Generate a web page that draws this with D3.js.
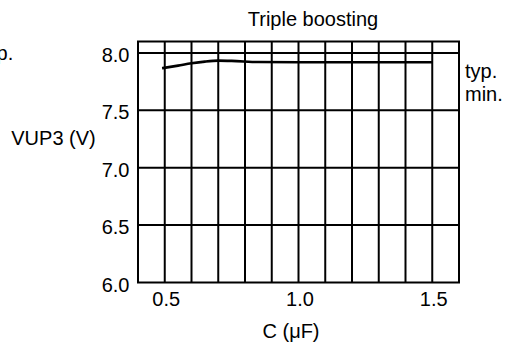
<!DOCTYPE html>
<html><head><meta charset="utf-8">
<script src="https://cdn.jsdelivr.net/npm/d3@7"></script>
<style>body{margin:0;background:#fff}svg{display:block}text{font-family:"Liberation Sans",Arial,sans-serif;fill:#000}</style>
</head><body>
<svg id="c" width="510" height="349"></svg>
<script>
const capX = [0.49, 0.55, 0.6, 0.65, 0.7, 0.75, 0.85, 1.0, 1.25, 1.5];
const vupTyp = [7.867, 7.89, 7.91, 7.925, 7.933, 7.931, 7.921, 7.919, 7.919, 7.919];
const xTicks = [0.5, 1.0, 1.5];
const yTicks = [6.0, 6.5, 7.0, 7.5, 8.0];
const xGrid = [0.5,0.6,0.7,0.8,0.9,1.0,1.1,1.2,1.3,1.4,1.5];
const yGrid = [6.5, 7.0, 7.5, 8.0];
const legendLabels = ["typ.", "min."];

const svg = d3.select("#c");
const x = d3.scaleLinear().domain([0.4, 1.6]).range([138, 459]);
const y = d3.scaleLinear().domain([6.0, 8.1]).range([282.5, 41.5]);

const g = svg.append("g");
g.selectAll(".vg").data(xGrid).join("line")
  .attr("x1", d=>x(d)).attr("x2", d=>x(d)).attr("y1", y(6.0)).attr("y2", y(8.1))
  .attr("stroke", "#000").attr("stroke-width", 2);
g.selectAll(".hg").data(yGrid).join("line")
  .attr("x1", x(0.4)).attr("x2", x(1.6)).attr("y1", d=>y(d)).attr("y2", d=>y(d))
  .attr("stroke", "#000").attr("stroke-width", 2);
g.append("rect").attr("x", x(0.4)).attr("y", y(8.1)).attr("width", x(1.6)-x(0.4)).attr("height", y(6.0)-y(8.1))
  .attr("fill", "none").attr("stroke", "#000").attr("stroke-width", 2);

const line = d3.line().x((d,i)=>x(capX[i])).y(d=>y(d)).curve(d3.curveMonotoneX);
g.append("path").attr("d", line(vupTyp)).attr("fill", "none").attr("stroke", "#000").attr("stroke-width", 2.6);

const fs = 20;
svg.selectAll(".yt").data(yTicks).join("text")
  .attr("x", 129.5).attr("y", d=>y(d) + 9).attr("text-anchor", "end")
  .attr("font-size", fs).text(d=>d.toFixed(1));
svg.selectAll(".xt").data(xTicks).join("text")
  .attr("x", d=>x(d) + 1.5).attr("y", 306).attr("text-anchor", "middle")
  .attr("font-size", fs).text(d=>d.toFixed(1));

svg.append("text").attr("x", 313).attr("y", 26).attr("text-anchor", "middle").attr("font-size", fs).text("Triple boosting");
svg.append("text").attr("x", 53.5).attr("y", 145).attr("text-anchor", "middle").attr("font-size", fs).text("VUP3 (V)");
svg.append("text").attr("x", 291).attr("y", 338).attr("text-anchor", "middle").attr("font-size", fs).text("C (μF)");
svg.selectAll(".lg").data(legendLabels).join("text")
  .attr("x", 465).attr("y", (d,i)=>78 + i*23).attr("font-size", fs).text(d=>d);
svg.append("text").attr("x", -19).attr("y", 60).attr("font-size", fs).text("typ.");
</script>
</body></html>
